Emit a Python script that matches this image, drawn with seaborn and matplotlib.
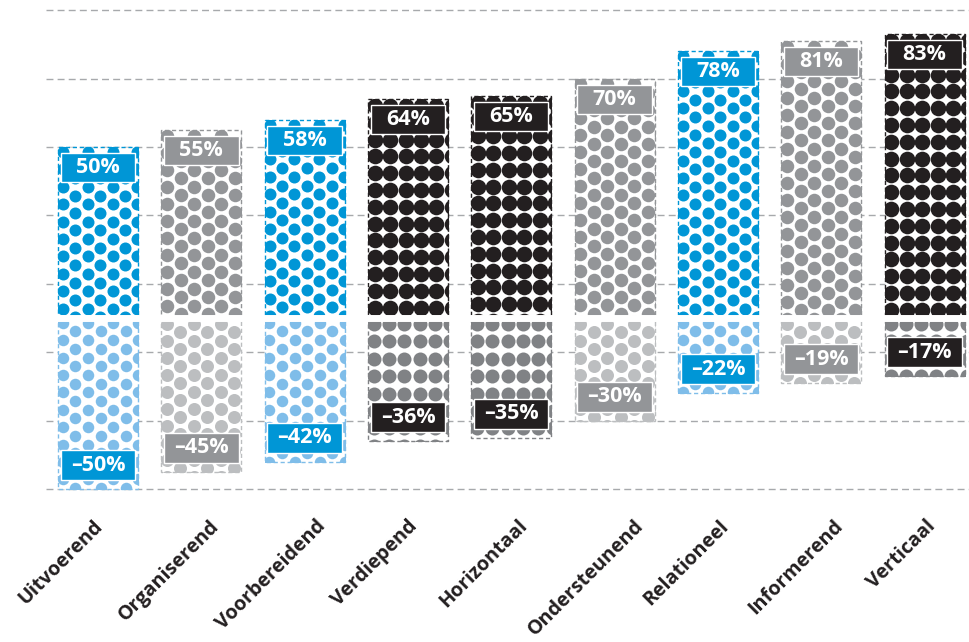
import matplotlib
matplotlib.use("Agg")
import numpy as np
import matplotlib.pyplot as plt
import matplotlib.transforms as mtransforms
import seaborn as sns

categorieen = ["Uitvoerend", "Organiserend", "Voorbereidend", "Verdiepend", "Horizontaal",
               "Ondersteunend", "Relationeel", "Informerend", "Verticaal"]
positief = [50, 55, 58, 64, 65, 70, 78, 81, 83]
negatief = [-50, -45, -42, -36, -35, -30, -22, -19, -17]
groep = ["blauw", "grijs", "blauw", "zwart", "zwart", "grijs", "blauw", "grijs", "zwart"]

kleur_pos = {"blauw": "#0096d6", "grijs": "#939598", "zwart": "#231f20"}
kleur_neg = {"blauw": "#7fbde9", "grijs": "#bcbec0", "zwart": "#808285"}
# stippelpatroon in pixels: (kolomafstand, rijafstand, verspringend, diameter)
patroon_pos = {"blauw": (12.4, 17.4, True, 12.0), "grijs": (13.5, 17.0, True, 13.5), "zwart": (15.4, 16.8, False, 15.6)}
patroon_neg = {"blauw": (12.6, 17.4, True, 11.5), "grijs": (13.5, 17.0, True, 13.0), "zwart": (15.2, 17.4, False, 14.0)}
# horizontale verschuiving van de aslabels (pixels), zoals in het origineel
label_schuif = [2, 15, 18, 7, 13, 26, 8, 19, 8]

sns.set_style("white")
plt.rcParams["font.family"] = ["Open Sans", "DejaVu Sans"]

fig = plt.figure(figsize=(9.69, 6.42), dpi=100)
ax = fig.add_axes([0.0475, 0.233, 0.9525, 0.767])

breedte = 0.774
n0 = len(ax.patches)
sns.barplot(x=categorieen, y=positief, hue=categorieen, palette=[kleur_pos[g] for g in groep],
            legend=False, width=breedte, ax=ax)
pos_bars = ax.patches[n0:]
n1 = len(ax.patches)
sns.barplot(x=categorieen, y=negatief, hue=categorieen, palette=[kleur_neg[g] for g in groep],
            legend=False, width=breedte, ax=ax)
neg_bars = ax.patches[n1:]

ax.set_xlim(-0.503, 8.43)
ax.set_ylim(-51, 93)
ax.set_yticks([-50, -30, -10, 10, 30, 50, 70, 90])
ax.yaxis.grid(True, linestyle=(0, (5, 3)), color="#a7a9ac", linewidth=1)
ax.xaxis.grid(False)
ax.set_axisbelow(True)
ax.tick_params(axis="y", length=0, labelleft=False)
ax.tick_params(axis="x", length=0, pad=22)
sns.despine(ax=ax, left=True, bottom=True)
ax.set_xlabel("")
ax.set_ylabel("")
ax.set_xticks(range(len(categorieen)))
ax.set_xticklabels(categorieen, rotation=45, ha="right", va="center", rotation_mode="anchor",
                   fontsize=14.2, fontweight="bold", color="#231f20")
for lab, dx in zip(ax.get_xticklabels(), label_schuif):
    lab.set_transform(lab.get_transform() + mtransforms.ScaledTranslation(dx / 100, 0, fig.dpi_scale_trans))


def stippel(patch, kleur, dx, dy, verspringend, d):
    patch.set_facecolor("white")
    patch.set_edgecolor(kleur)
    patch.set_linestyle((0, (3, 2)))
    patch.set_linewidth(1.0)
    patch.set_zorder(1)
    (xa, ya), (xb, yb) = ax.transData.transform(
        [(patch.get_x(), patch.get_y()), (patch.get_x() + patch.get_width(), patch.get_y() + patch.get_height())])
    links, rechts = min(xa, xb), max(xa, xb)
    onder, boven = min(ya, yb), max(ya, yb)
    punten = []
    for k, px in enumerate(np.arange(links + d / 2 - 1, rechts + dx, dx)):
        verschuiving = dy / 2 if (verspringend and k % 2) else 0
        for py in np.arange(boven - d / 2 + 1 - verschuiving, onder - dy, -dy):
            punten.append((px, py))
    punten = ax.transData.inverted().transform(np.array(punten))
    sc = ax.scatter(punten[:, 0], punten[:, 1], s=(d * 0.72) ** 2, color=kleur,
                    linewidths=0, zorder=2)
    sc.set_clip_path(patch)


for i, g in enumerate(groep):
    stippel(pos_bars[i], kleur_pos[g], *patroon_pos[g])
    stippel(neg_bars[i], kleur_neg[g], *patroon_neg[g])

ax.axhline(0, color="white", linewidth=5, zorder=3)

# labels in gekleurde kaders
for i, g in enumerate(groep):
    v = positief[i]
    ax.bar(i, 8.4, bottom=v - 6 - 4.2, width=0.72, color=kleur_pos[g], zorder=4)
    ax.text(i, v - 6, f"{v}%", ha="center", va="center", color="white",
            fontsize=15.5, fontweight="bold", zorder=5)
    v = negatief[i]
    ax.bar(i, 8.8, bottom=v + 7 - 4.4, width=0.72, color=kleur_pos[g], zorder=4)
    ax.text(i, v + 7, f"\u2013{abs(v)}%", ha="center", va="center", color="white",
            fontsize=15.5, fontweight="bold", zorder=5)

fig.savefig("out.png", dpi=100)
